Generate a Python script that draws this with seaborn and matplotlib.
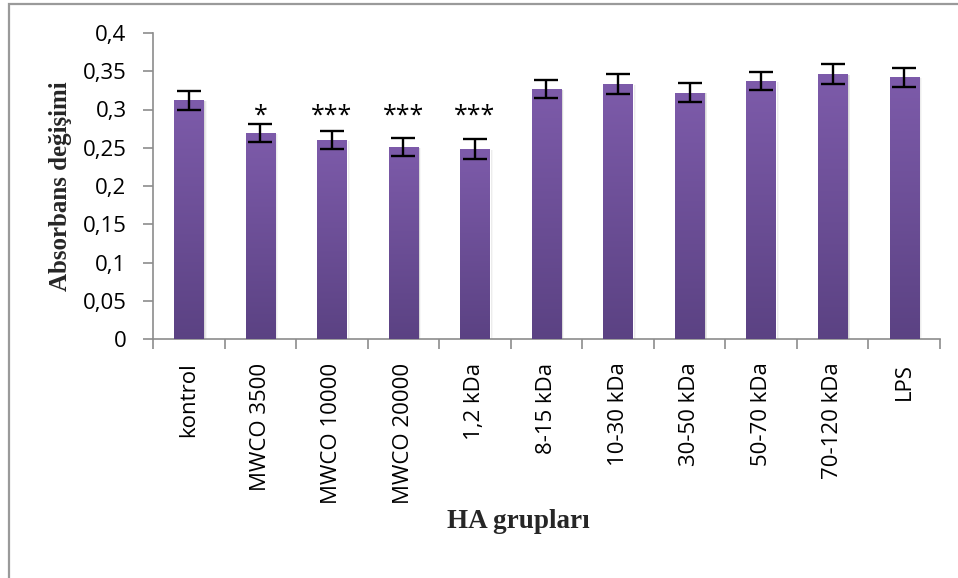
import numpy as np
import pandas as pd
import matplotlib
matplotlib.use("Agg")
import matplotlib.pyplot as plt
from matplotlib.patches import Rectangle
from matplotlib.ticker import FixedLocator
import seaborn as sns

# ---- data ----
categories = ["kontrol", "MWCO 3500", "MWCO 10000", "MWCO 20000", "1,2 kDa",
              "8-15 kDa", "10-30 kDa", "30-50 kDa", "50-70 kDa", "70-120 kDa", "LPS"]
values = [0.312, 0.269, 0.260, 0.251, 0.248, 0.327, 0.333, 0.322, 0.337, 0.346, 0.342]
errors = [0.0125, 0.012, 0.012, 0.012, 0.013, 0.012, 0.013, 0.012, 0.012, 0.013, 0.0125]
stars = ["", "*", "***", "***", "***", "", "", "", "", "", ""]
star_level = 0.291
yticks = [0, 0.05, 0.1, 0.15, 0.2, 0.25, 0.3, 0.35, 0.4]
ytick_labels = ["0", "0,05", "0,1", "0,15", "0,2", "0,25", "0,3", "0,35", "0,4"]
xlabel = "HA grupları"
ylabel = "Absorbans değişimi"

df = pd.DataFrame({"grup": categories, "deger": values})

sns.set_theme(style="white")
plt.rcParams["font.family"] = ["Open Sans", "DejaVu Sans"]

W, H = 958, 578
fig = plt.figure(figsize=(W / 100, H / 100), dpi=100)
ax = fig.add_axes([153 / W, 1 - 339 / H, (940 - 153) / W, (339 - 33) / H])

sns.barplot(data=df, x="grup", y="deger", ax=ax, color="#6E509A", width=0.41,
            saturation=1, errorbar=None, zorder=2)

# gradient fill + soft shadow for each bar
top_c = np.array(matplotlib.colors.to_rgb("#7D5BAA"))
bot_c = np.array(matplotlib.colors.to_rgb("#5B4283"))
grad = np.linspace(0, 1, 256)[:, None]
img = (top_c[None, None, :] * grad[:, :, None] + bot_c[None, None, :] * (1 - grad[:, :, None]))
for p in ax.patches:
    x0, w, h = p.get_x(), p.get_width(), p.get_height()
    for k, a in enumerate([0.10, 0.06, 0.03]):
        sh = Rectangle((x0 + 0.02 + 0.012 * k, 0), w, h - 0.001, facecolor="black",
                       alpha=a, edgecolor="none", zorder=1)
        ax.add_patch(sh)
    im = ax.imshow(img, extent=(x0, x0 + w, 0, h), origin="lower", aspect="auto", zorder=3)
    im.set_clip_path(p)

xpos = np.arange(len(categories))
ax.errorbar(xpos, values, yerr=errors, fmt="none", ecolor="black", elinewidth=1.7,
            capsize=8.5, capthick=1.7, zorder=4)

for i, s in enumerate(stars):
    if s:
        ax.text(i, star_level, s, ha="center", va="center", fontsize=18,
                color="black", zorder=5)

ax.set_xlim(-0.5, len(categories) - 0.5)
ax.set_ylim(0, 0.4)
ax.set_yticks(yticks)
ax.set_yticklabels(ytick_labels, fontsize=16)
ax.set_xticks(xpos)
ax.set_xticklabels(categories, rotation=90, fontsize=16)
ax.xaxis.set_minor_locator(FixedLocator(np.arange(-0.5, len(categories), 1.0)))
ax.tick_params(axis="x", which="major", length=0, pad=17, colors="black")
ax.tick_params(axis="x", which="minor", length=7, width=1.2, color="#8C8C8C", bottom=True)
ax.tick_params(axis="y", which="major", length=7, width=1.2, color="#8C8C8C", pad=12,
               left=True, labelcolor="black")

for side in ["top", "right"]:
    ax.spines[side].set_visible(False)
for side in ["left", "bottom"]:
    ax.spines[side].set_color("#8C8C8C")
    ax.spines[side].set_linewidth(1.2)

ax.set_xlabel("")
ax.set_ylabel("")
fig.text(61 / W, 1 - 186 / H, ylabel, rotation=90, ha="center", va="center",
         fontsize=18, fontweight="bold", family=["Liberation Serif", "DejaVu Serif"])
fig.text(518 / W, 1 - 521 / H, xlabel, ha="center", va="center",
         fontsize=19.5, fontweight="bold", family=["Liberation Serif", "DejaVu Serif"])

# outer chart border
fig.patches.append(Rectangle((8.5 / W, -0.05), 1.2, (H - 3.5) / H + 0.05,
                             transform=fig.transFigure, fill=False,
                             edgecolor="#9A9A9A", linewidth=1.6))

fig.savefig("out.png", dpi=100)
